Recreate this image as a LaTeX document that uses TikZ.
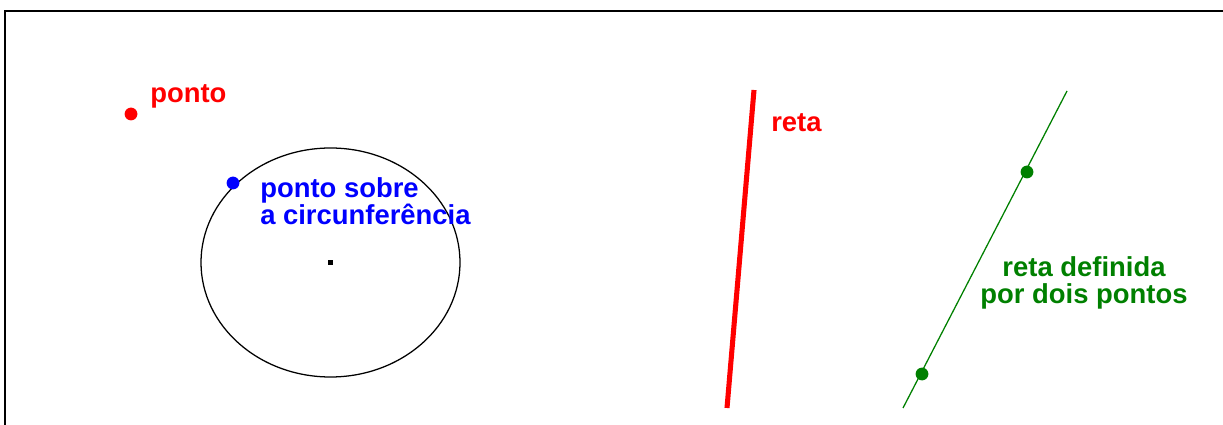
\documentclass[tikz,border=0pt]{standalone}
\usepackage{fontspec}
\setmainfont{Liberation Sans}
\usetikzlibrary{positioning}
\definecolor{ptred}{RGB}{255,0,0}
\definecolor{ptblue}{RGB}{0,0,255}
\definecolor{ptgreen}{RGB}{0,128,0}

\begin{document}
\begin{tikzpicture}[x=0.025cm, y=-0.025cm,
            dot/.style={circle, fill, inner sep=0pt, minimum size=0.32cm},
            lbl/.style={font=\fontsize{19.5}{19.5}\selectfont\bfseries, inner sep=0pt}
        ]
            \useasboundingbox (0,0) rectangle (1223,425);
            \draw[line width=1.4pt] (1223,11) -- (5,11) -- (5,425);

            % ponto
            \node[dot, ptred] (pt) at (131,114) {};
            \node[lbl, ptred, anchor=base west] (ptl) at (150,103) {ponto};

            % circunferencia
            \node[fill, inner sep=0pt, minimum size=0.12cm] (cen) at (330.5,262.5) {};
            \draw[line width=0.9pt] (cen) ellipse [x radius=129.5, y radius=114.5];
            \node[dot, ptblue] (ptc) at (233,183) {};
            \node[lbl, ptblue, anchor=north west, align=left] (ptcl) at (260,177) {ponto sobre\\a circunferência};

            % reta
            \coordinate (r1) at (754,90);
            \coordinate (r2) at (727,408);
            \draw[ptred, line width=3.6pt] (r1) -- (r2);
            \node[lbl, ptred, anchor=base west] (rl) at (771,132) {reta};

            % reta por dois pontos
            \coordinate (g1) at (1067,91);
            \coordinate (g2) at (903,408);
            \draw[ptgreen, line width=0.9pt] (g1) -- (g2);
            \node[dot, ptgreen] (a) at (1027,172) {};
            \node[dot, ptgreen] (b) at (922,374) {};
            \node[lbl, ptgreen, anchor=north, align=center] (gl) at (1084,256) {reta definida\\por dois pontos};
        \end{tikzpicture}
\end{document}
